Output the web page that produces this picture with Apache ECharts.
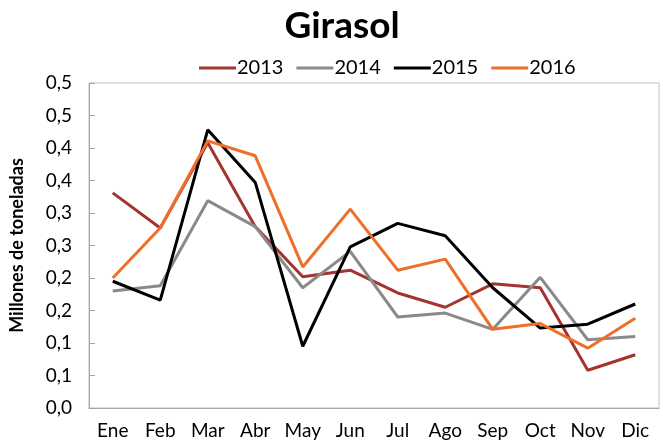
<!DOCTYPE html>
<html>
<head>
<meta charset="utf-8">
<script src="https://cdn.jsdelivr.net/npm/echarts@6/dist/echarts.min.js"></script>
<style>
  html, body { margin: 0; padding: 0; background: #fff; }
  #chart { width: 663px; height: 447px; }
</style>
</head>
<body>
<div id="chart"></div>
<script>
// meses
var meses = ['Ene', 'Feb', 'Mar', 'Abr', 'May', 'Jun', 'Jul', 'Ago', 'Sep', 'Oct', 'Nov', 'Dic'];

// millones de toneladas por año
var v2013 = [0.331, 0.277, 0.408, 0.279, 0.202, 0.212, 0.177, 0.155, 0.191, 0.185, 0.058, 0.082];
var v2014 = [0.180, 0.188, 0.319, 0.279, 0.185, 0.241, 0.140, 0.146, 0.121, 0.201, 0.105, 0.110];
var v2015 = [0.195, 0.166, 0.428, 0.347, 0.095, 0.248, 0.284, 0.265, 0.185, 0.123, 0.129, 0.160];
var v2016 = [0.200, 0.277, 0.411, 0.388, 0.217, 0.306, 0.212, 0.229, 0.121, 0.130, 0.092, 0.138];

var colores = ['#A3342F', '#8A8A8A', '#000000', '#EF6E2A'];
var fuente = 'Lato, "Open Sans", sans-serif';

var chart = echarts.init(document.getElementById('chart'));

function serie(nombre, datos) {
  return {
    name: nombre,
    type: 'line',
    data: datos,
    symbol: 'none',
    lineStyle: { width: 3 },
    emphasis: { disabled: true }
  };
}

chart.setOption({
  color: colores,
  animation: false,
  title: {
    text: 'Girasol',
    left: 337,
    textAlign: 'center',
    top: 3,
    textStyle: { fontFamily: fuente, fontSize: 37, fontWeight: 'bold', color: '#000' }
  },
  legend: {
    top: 53,
    left: 194,
    itemWidth: 37,
    itemHeight: 3,
    itemGap: 13,
    icon: 'rect',
    textStyle: { fontFamily: fuente, fontSize: 20, color: '#000', padding: [0, 0, 0, -4] },
    data: ['2013', '2014', '2015', '2016']
  },
  grid: { left: 88, right: 4, top: 83, bottom: 39, show: true, borderColor: '#BFBFBF', borderWidth: 1 },
  xAxis: {
    type: 'category',
    data: meses,
    boundaryGap: true,
    axisLine: { lineStyle: { color: '#A6A6A6' } },
    axisTick: { inside: true, length: 6, lineStyle: { color: '#A6A6A6' } },
    axisLabel: { fontFamily: fuente, fontSize: 19, color: '#000', margin: 13 }
  },
  yAxis: {
    type: 'value',
    min: 0,
    max: 0.5,
    interval: 0.05,
    name: 'Millones de toneladas',
    nameLocation: 'middle',
    nameGap: 63,
    nameTextStyle: { fontFamily: fuente, fontSize: 18, fontWeight: 'bold', color: '#000' },
    splitLine: { show: false },
    axisLine: { show: true, lineStyle: { color: '#A6A6A6' } },
    axisTick: { show: true, inside: true, length: 6, lineStyle: { color: '#A6A6A6' } },
    axisLabel: {
      fontFamily: fuente, fontSize: 19, color: '#000', margin: 17,
      formatter: function (v) {
        return (Math.round(v * 10 + 1e-6) / 10).toFixed(1).replace('.', ',');
      }
    }
  },
  series: [
    serie('2013', v2013),
    serie('2014', v2014),
    serie('2015', v2015),
    serie('2016', v2016)
  ]
});
</script>
</body>
</html>
